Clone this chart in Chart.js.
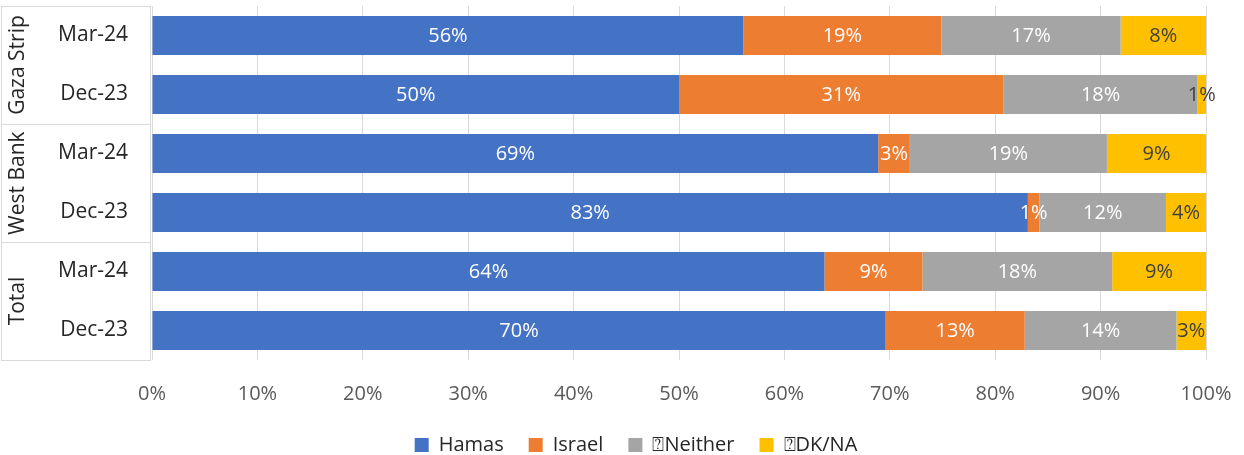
<!DOCTYPE html>
<html>
<head>
<meta charset="utf-8">
<script src="https://cdn.jsdelivr.net/npm/chart.js@4"></script>
<style>
  html, body { margin: 0; padding: 0; background: #fff; overflow: hidden; }
  #wrap { width: 1244px; height: 455px; position: relative; }
  canvas { display: block; }
</style>
</head>
<body>
<div id="wrap"><canvas id="chart"></canvas></div>
<script>
// rows top to bottom
var categories = ['Mar-24', 'Dec-23', 'Mar-24', 'Dec-23', 'Mar-24', 'Dec-23'];
var groups = ['Gaza Strip', 'West Bank', 'Total'];
var hamas   = [56.1, 50.0, 68.9, 83.1, 63.8, 69.6];
var israel  = [18.8, 30.8, 3.0, 1.1, 9.3, 13.2];
var neither = [17.0, 18.4, 18.7, 12.0, 18.0, 14.4];
var dkna    = [8.1, 0.8, 9.4, 3.8, 8.9, 2.8];
var xTicks = [0, 10, 20, 30, 40, 50, 60, 70, 80, 90, 100];

var FONT = "'Open Sans', sans-serif";
var GRID = '#d9d9d9';

// --- data labels in the middle of each segment ---
var segLabels = {
    id: 'segLabels',
    afterDatasetsDraw: function(chart) {
        var ctx = chart.ctx;
        ctx.save();
        ctx.font = '20px ' + FONT;
        ctx.textAlign = 'center';
        ctx.textBaseline = 'middle';
        chart.data.datasets.forEach(function(ds, i) {
            chart.getDatasetMeta(i).data.forEach(function(bar, j) {
                var mid = (bar.x + bar.base) / 2;
                ctx.fillStyle = ds.labelColor;
                ctx.fillText(Math.round(ds.data[j]) + '%', mid, bar.y + 1);
            });
        });
        ctx.restore();
    }
};

// --- left box with the rotated group names ---
var groupBox = {
    id: 'groupBox',
    afterDraw: function(chart) {
        var ctx = chart.ctx;
        var y = chart.scales.y;
        var area = chart.chartArea;
        var left = 1, right = area.left - 2;
        var half = (y.getPixelForValue(1) - y.getPixelForValue(0)) / 2;
        ctx.save();
        ctx.strokeStyle = GRID;
        ctx.lineWidth = 1;
        ctx.beginPath();
        ctx.moveTo(left + 0.5, area.top);
        ctx.lineTo(left + 0.5, area.bottom + 1);
        ctx.moveTo(right + 0.5, area.top);
        ctx.lineTo(right + 0.5, area.bottom + 1);
        for (var g = 0; g <= groups.length; g++) {
            var py = Math.round(y.getPixelForValue(g * 2) - half) + 0.5;
            ctx.moveTo(left, py);
            ctx.lineTo(right + 1, py);
        }
        ctx.stroke();
        ctx.fillStyle = '#262626';
        ctx.font = '21px ' + FONT;
        ctx.textAlign = 'center';
        ctx.textBaseline = 'middle';
        groups.forEach(function(name, g) {
            var cy = (y.getPixelForValue(g * 2) + y.getPixelForValue(g * 2 + 1)) / 2;
            ctx.save();
            ctx.translate(18, cy);
            ctx.rotate(-Math.PI / 2);
            ctx.fillText(name, 0, 0);
            ctx.restore();
        });
        ctx.restore();
    }
};

// legend sits a bit right of the canvas centre in the original
var legendShift = {
    id: 'legendShift',
    afterLayout: function(chart) {
        chart.legend.left += 13;
        chart.legend.right += 13;
    }
};

function ds(label, data, color, labelColor) {
    return { label: label, data: data, backgroundColor: color, borderWidth: 0,
             labelColor: labelColor, barPercentage: 0.66, categoryPercentage: 1 };
}

new Chart(document.getElementById('chart'), {
    type: 'bar',
    data: {
        labels: categories,
        datasets: [
            ds('Hamas', hamas, '#4472c4', '#ffffff'),
            ds('Israel', israel, '#ed7d31', '#ffffff'),
            ds('\u2370Neither', neither, '#a5a5a5', '#ffffff'),
            ds('\u2370DK/NA', dkna, '#ffc000', '#404040')
        ]
    },
    options: {
        indexAxis: 'y',
        responsive: true,
        maintainAspectRatio: false,
        animation: false,
        layout: { padding: { left: 40, right: 38, top: 6, bottom: -10 } },
        scales: {
            x: {
                stacked: true, min: 0, max: 100,
                afterBuildTicks: function(scale) {
                    scale.ticks = xTicks.map(function(v) { return { value: v }; });
                },
                afterFit: function(scale) {
                    scale.height = 50;
                    scale.paddingLeft = 0; scale.paddingRight = 0;
                },
                grid: { color: GRID, drawTicks: false },
                border: { display: false },
                ticks: { color: '#595959', padding: 22, font: { family: FONT, size: 20 },
                         callback: function(v) { return v + '%'; } }
            },
            y: {
                stacked: true,
                afterFit: function(scale) {
                    scale.width = 112;
                    scale.paddingTop = 0; scale.paddingBottom = 0;
                },
                grid: { display: false },
                border: { display: false },
                ticks: { color: '#262626', padding: 16, font: { family: FONT, size: 21 } }
            }
        },
        plugins: {
            legend: {
                position: 'bottom',
                labels: { color: '#262626', boxWidth: 14, boxHeight: 14, padding: 25,
                          font: { family: FONT, size: 20 } }
            },
            tooltip: { enabled: false }
        }
    },
    plugins: [segLabels, groupBox, legendShift]
});
</script>
</body>
</html>
